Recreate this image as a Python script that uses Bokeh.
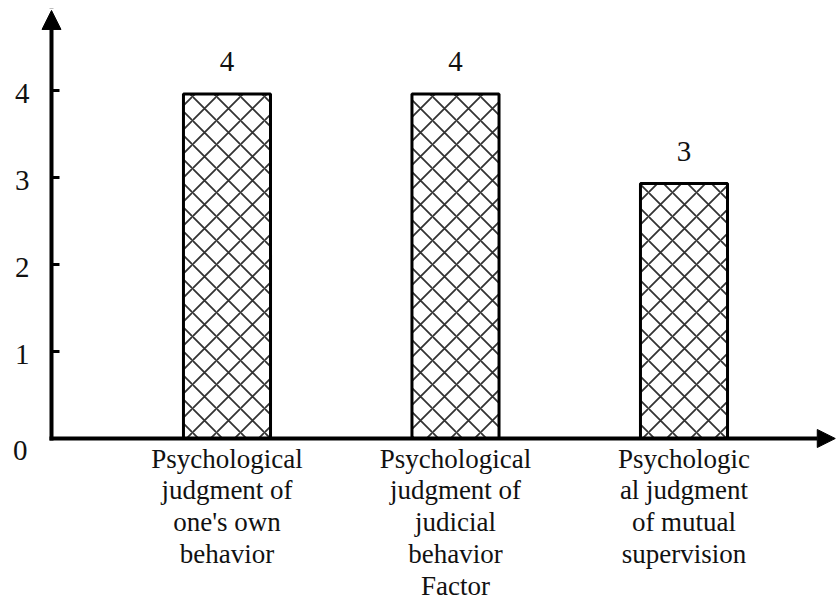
from bokeh.plotting import figure
from bokeh.models import Range1d, Arrow, NormalHead
from bokeh.core.properties import value
from bokeh.embed import file_html
from bokeh.resources import INLINE

# ---- data ----
categories = [
    "Psychological\njudgment of\none's own\nbehavior",
    "Psychological\njudgment of\njudicial\nbehavior",
    "Psychologic\nal judgment\nof mutual\nsupervision",
]
values = [3.96, 3.96, 2.93]
value_labels = ["4", "4", "3"]
y_ticks = [1, 2, 3, 4]
y_tick_labels = ["1", "2", "3", "4"]
origin_label = "0"
x_title = "Factor"

positions = list(range(len(categories)))
axis_x = -0.768
x_arrow_end = 2.662
y_arrow_end = 4.92

FONT = value("Liberation Serif")

p = figure(width=836, height=600, output_backend="svg", toolbar_location=None,
           x_range=Range1d(-0.9912, 2.6674), y_range=Range1d(-1.862, 5.0345),
           x_axis_location=None, y_axis_location=None, min_border=0)
p.outline_line_color = None
p.xgrid.visible = False
p.ygrid.visible = False
p.background_fill_color = "white"
p.border_fill_color = "white"

# bars
p.vbar(x=positions, top=values, bottom=0, width=0.381,
       fill_color="white", line_color="black", line_width=3,
       hatch_pattern="x", hatch_scale=24, hatch_weight=1.8, hatch_color="#333333")

# value labels
p.text(x=positions, y=values, text=value_labels, text_align="center",
       text_baseline="alphabetic", y_offset=-32, text_font=FONT,
       text_font_size="29px", text_color="#111111")

# category labels (+ axis title under the middle one)
drawn = list(categories)
drawn[len(drawn) // 2] = drawn[len(drawn) // 2] + "\n" + x_title
p.text(x=positions, y=[0] * len(positions), text=drawn, text_align="center",
       text_baseline="top", y_offset=5, text_font=FONT, text_font_size="27px",
       text_line_height=1.06, text_color="#111111")

# y ticks and labels
p.ray(x=[axis_x] * len(y_ticks), y=y_ticks, length=8, length_units="screen",
      angle=0, line_color="black", line_width=3)
p.text(x=[axis_x] * len(y_ticks), y=y_ticks, text=y_tick_labels, text_align="right",
       text_baseline="middle", x_offset=-22, y_offset=3, text_font=FONT,
       text_font_size="29px", text_color="#111111")
p.text(x=[axis_x], y=[0], text=[origin_label], text_align="right",
       text_baseline="middle", x_offset=-24, y_offset=12, text_font=FONT,
       text_font_size="29px", text_color="#111111")

# axes with arrows
p.add_layout(Arrow(end=NormalHead(size=19, fill_color="black", line_color="black"),
                   x_start=axis_x, y_start=0, x_end=axis_x, y_end=y_arrow_end,
                   line_width=4, line_color="black", line_cap="square"))
p.add_layout(Arrow(end=NormalHead(size=18, fill_color="black", line_color="black"),
                   x_start=axis_x, y_start=0, x_end=x_arrow_end, y_end=0,
                   line_width=4, line_color="black", line_cap="square"))

open("out.html", "w").write(file_html(p, INLINE))
